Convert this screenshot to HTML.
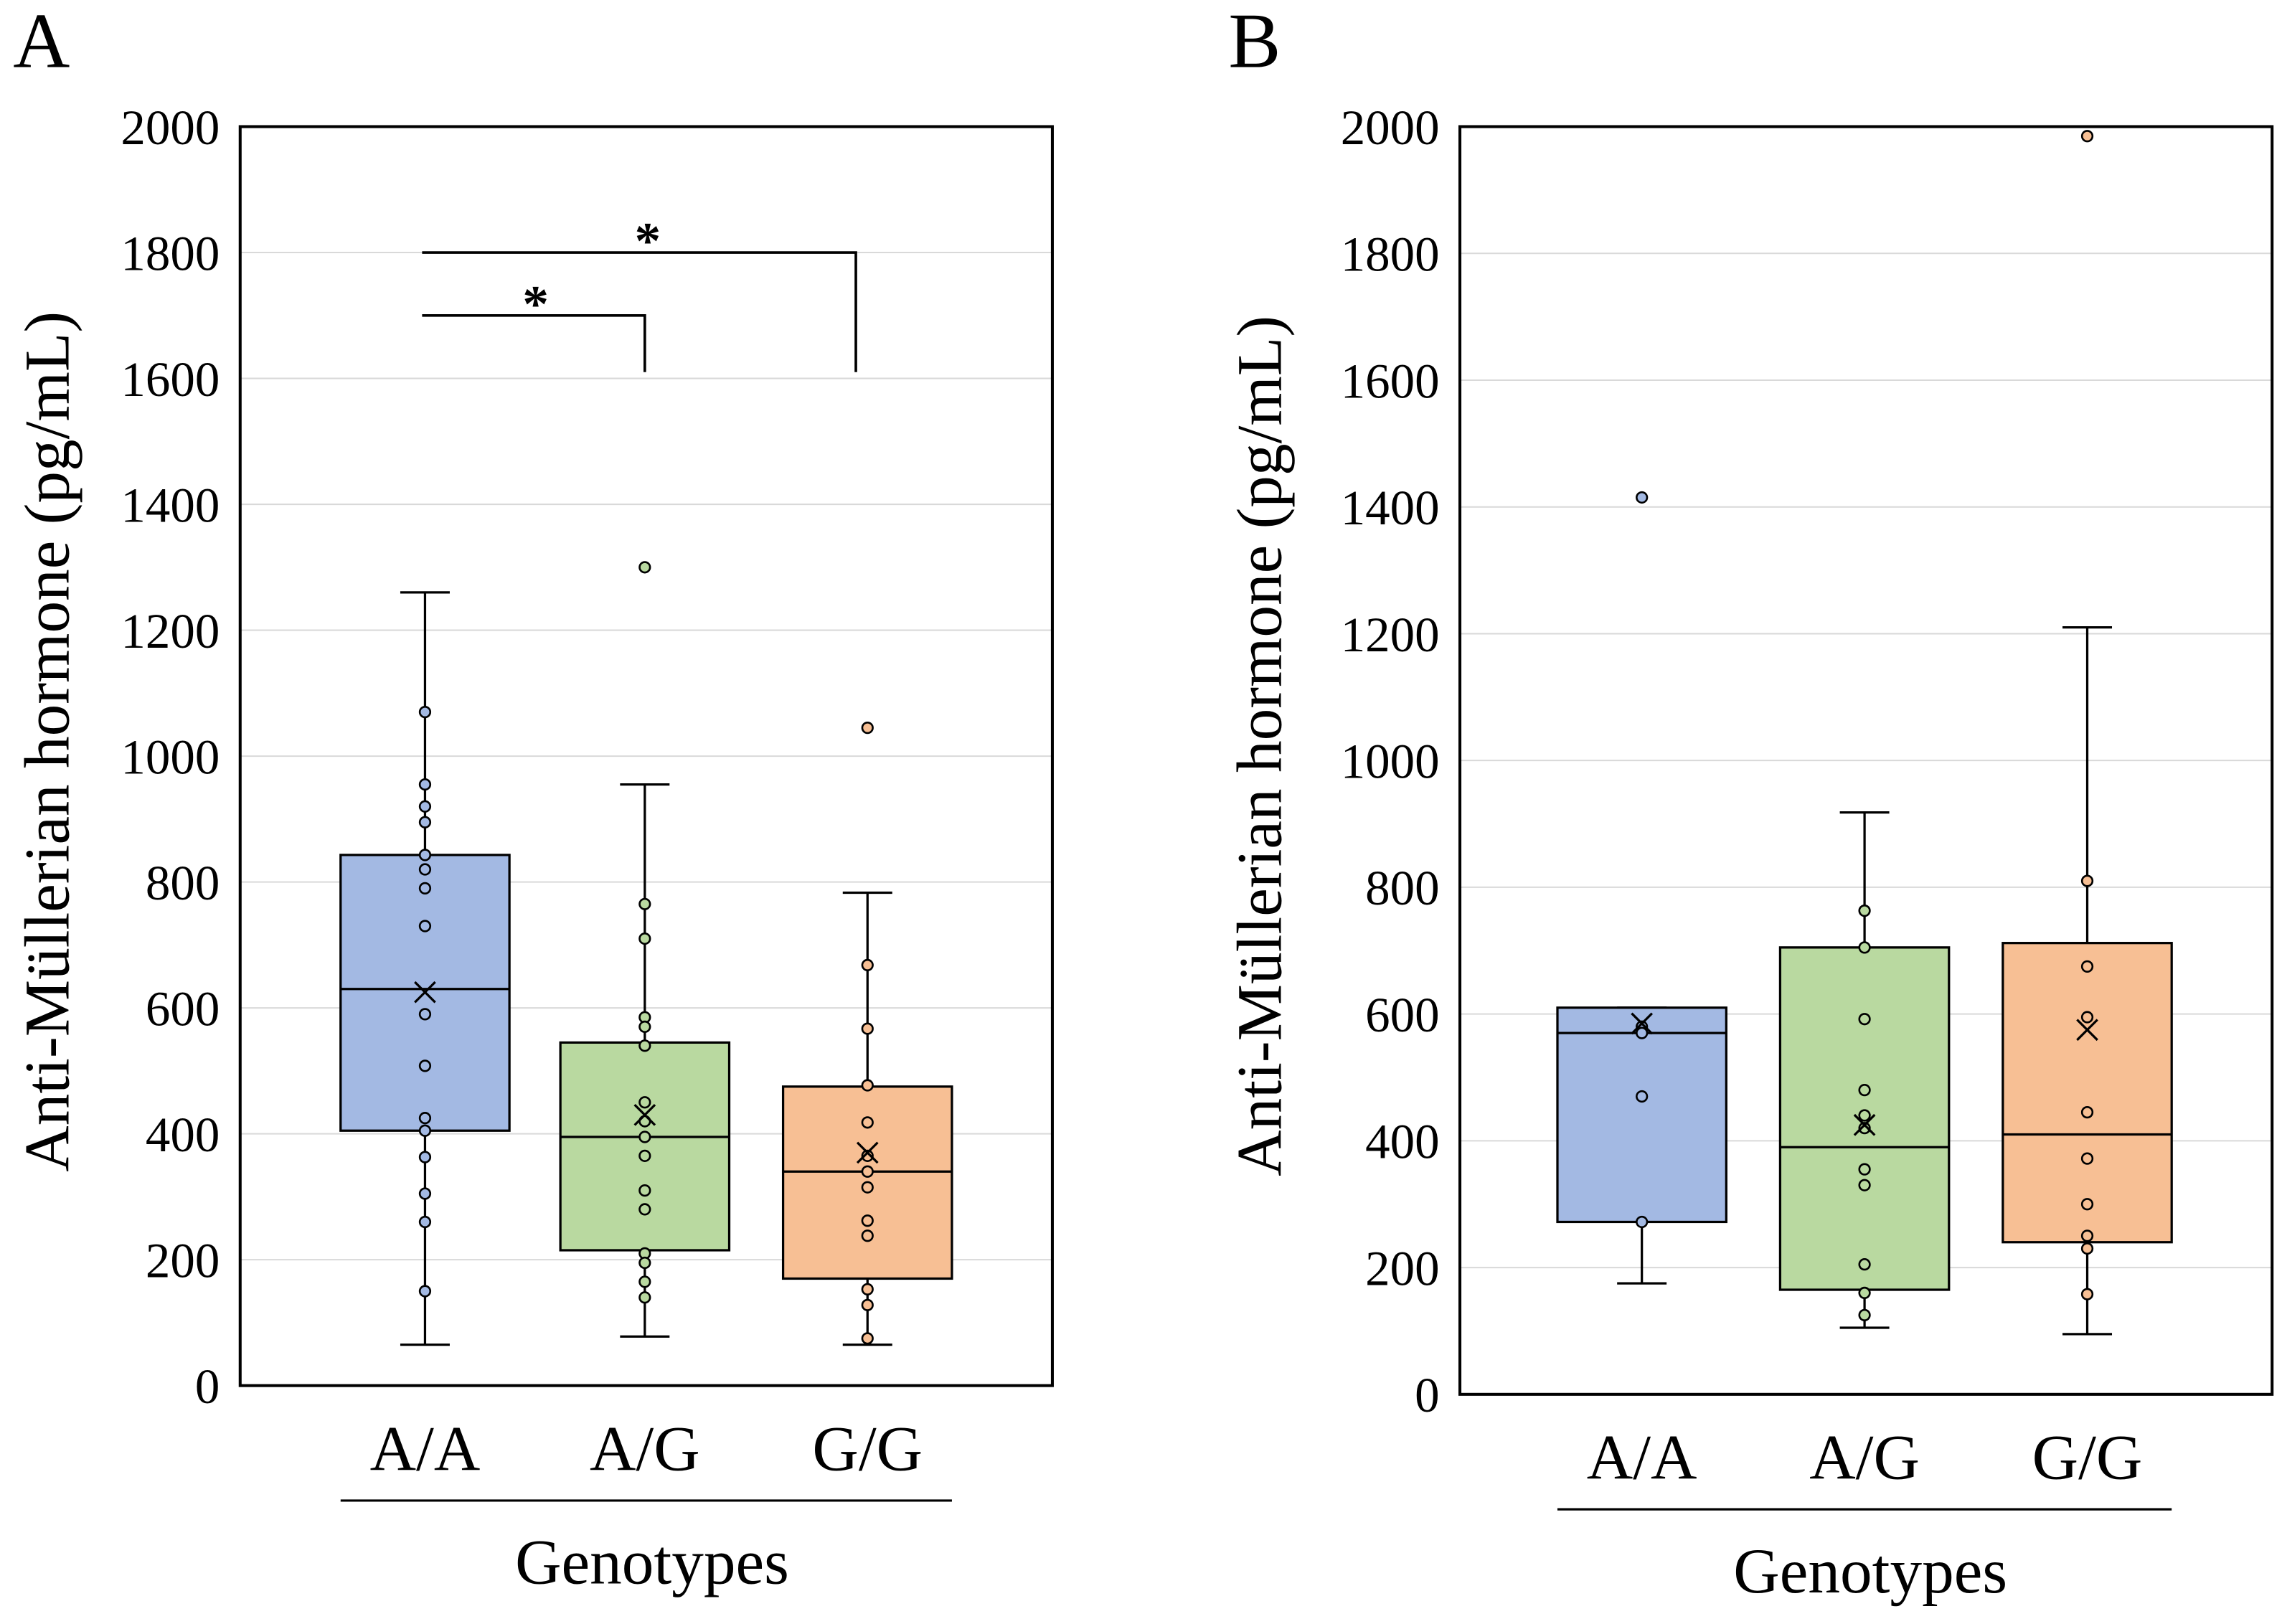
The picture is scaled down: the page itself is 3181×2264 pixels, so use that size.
<!DOCTYPE html>
<html><head><meta charset="utf-8"><style>
html,body{margin:0;padding:0;background:#fff;}
svg{display:block;font-family:"Liberation Serif",serif;}
</style></head><body>
<svg id="fig" width="3181" height="2264" viewBox="0 0 1567.8 1115.8" preserveAspectRatio="none" xmlns="http://www.w3.org/2000/svg"></svg>
<script>
const categories = ["A/A","A/G","G/G"];
const yTicks = [0,200,400,600,800,1000,1200,1400,1600,1800,2000];
const colors = ["#a3b9e3","#b9d9a0","#f7bf94"];
// Panel A
const aQ1 = [405,215,170];
const aMedian = [630,395,340];
const aQ3 = [843,545,475];
const aWhiskLo = [65,78,65];
const aWhiskHi = [1260,955,783];
const aMean = [625,430,370];
const aPoints0 = [1070,955,920,895,843,820,790,730,590,508,425,405,363,305,260,150];
const aPoints1 = [1300,765,710,585,570,540,450,420,395,365,310,280,210,195,165,140];
const aPoints2 = [1045,668,567,477,418,365,340,315,262,238,153,128,75];
// Panel B
const bQ1 = [272,165,240];
const bMedian = [570,390,410];
const bQ3 = [610,705,712];
const bWhiskLo = [175,105,95];
const bWhiskHi = [610,918,1210];
const bMean = [585,425,575];
const bPoints0 = [1415,580,570,470,272];
const bPoints1 = [763,705,592,480,440,420,355,330,205,160,125];
const bPoints2 = [1985,810,675,595,445,372,300,250,230,158];

const NS="http://www.w3.org/2000/svg";
const svg=document.getElementById('fig');
function mk(tag,attrs,parent){const e=document.createElementNS(NS,tag);for(const k in attrs)e.setAttribute(k,attrs[k]);(parent||svg).appendChild(e);return e;}

function panel(cfg){
  const g=mk('g',{});
  
  
  const y=v=>cfg.y0-(v/2000)*(cfg.y0-cfg.y2000);
  const x=i=>cfg.cx[i];
  yTicks.forEach(t=>{
    if(t>0&&t<2000){const l=mk('line',{x1:cfg.left,x2:cfg.right,y1:y(t),y2:y(t),stroke:'#d9d9d9','stroke-width':1},g);
    
    }
    const tx=mk('text',{x:cfg.left-14,y:y(t)+12,'text-anchor':'end','font-size':34},g);
    tx.textContent=t;
    
    
  });
  const hw=58;
  categories.forEach((c,i)=>{
    const w1=mk('line',{x1:x(i),x2:x(i),y1:y(cfg.hi[i]),y2:y(cfg.q3[i]),stroke:'#000','stroke-width':1.6},g);
    
    
    const w2=mk('line',{x1:x(i),x2:x(i),y1:y(cfg.q1[i]),y2:y(cfg.lo[i]),stroke:'#000','stroke-width':1.6},g);
    
    
    [cfg.hi[i],cfg.lo[i]].forEach(v=>{const cap=mk('line',{x1:x(i)-17,x2:x(i)+17,y1:y(v),y2:y(v),stroke:'#000','stroke-width':1.6},g);
      
      });
    const b=mk('rect',{x:x(i)-hw,y:y(cfg.q3[i]),width:hw*2,height:y(cfg.q1[i])-y(cfg.q3[i]),fill:colors[i],stroke:'#000','stroke-width':1.6},g);
    
    
    const m=mk('line',{x1:x(i)-hw,x2:x(i)+hw,y1:y(cfg.med[i]),y2:y(cfg.med[i]),stroke:'#000','stroke-width':1.6},g);
    
    
    cfg.pts[i].forEach(v=>{const p=mk('circle',{cx:x(i),cy:y(v),r:3.6,fill:colors[i],stroke:'#000','stroke-width':1.3},g);
      
      });
    const my=y(cfg.mean[i]),s=7;
    const mx=mk('path',{d:`M${x(i)-s} ${my-s}L${x(i)+s} ${my+s}M${x(i)+s} ${my-s}L${x(i)-s} ${my+s}`,stroke:'#000','stroke-width':1.6,fill:'none'},g);
    
    
    const lb=mk('text',{x:x(i),y:cfg.y0+58,'text-anchor':'middle','font-size':44},g);
    lb.textContent=c;
    
    
  });
  const fr=mk('rect',{x:cfg.left,y:cfg.y2000,width:cfg.right-cfg.left,height:cfg.y0-cfg.y2000,fill:'none',stroke:'#000','stroke-width':2},g);
  
  
  const ul=mk('line',{x1:cfg.cx[0]-58,x2:cfg.cx[2]+58,y1:cfg.y0+79,y2:cfg.y0+79,stroke:'#000','stroke-width':1.6},g);
  
  
  const xt=mk('text',{x:(cfg.cx[0]+cfg.cx[2])/2+4,y:cfg.y0+136,'text-anchor':'middle','font-size':44},g);
  xt.textContent='Genotypes';
  
  
  const yt=mk('text',{x:0,y:0,'text-anchor':'middle','font-size':44,transform:`translate(${cfg.titleX},${(cfg.y0+cfg.y2000)/2-10}) rotate(-90)`},g);
  yt.textContent='Anti-Müllerian hormone (pg/mL)';
  
  
  const pl=mk('text',{x:cfg.letterX,y:46,'font-size':54},g);
  pl.textContent=cfg.letter;
  
  
  return y;
}

const yA=panel({name:'panel-a',letter:'A',letterX:9,left:165,right:723,y0:952,y2000:87,cx:[292,443,596],titleX:47,
  q1:aQ1,med:aMedian,q3:aQ3,lo:aWhiskLo,hi:aWhiskHi,mean:aMean,pts:[aPoints0,aPoints1,aPoints2]});
panel({name:'panel-b',letter:'B',letterX:844,left:1003,right:1561,y0:958,y2000:87,cx:[1128,1281,1434],titleX:880,
  q1:bQ1,med:bMedian,q3:bQ3,lo:bWhiskLo,hi:bWhiskHi,mean:bMean,pts:[bPoints0,bPoints1,bPoints2]});

// significance brackets panel A
const b1=mk('path',{d:`M290 ${yA(1700)}H443V${yA(1610)}`,stroke:'#000','stroke-width':1.8,fill:'none'});


const b2=mk('path',{d:`M290 ${yA(1800)}H588V${yA(1610)}`,stroke:'#000','stroke-width':1.8,fill:'none'});


const s1=mk('text',{x:368,y:yA(1700)+4,'text-anchor':'middle','font-size':36,'font-weight':'bold'});
s1.textContent='*';


const s2=mk('text',{x:445,y:yA(1800)+4,'text-anchor':'middle','font-size':36,'font-weight':'bold'});
s2.textContent='*';


</script>
</body></html>
